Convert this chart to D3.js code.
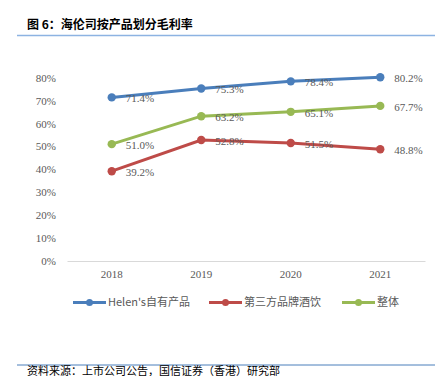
<!DOCTYPE html>
<html>
<head>
<meta charset="utf-8">
<script src="https://cdn.jsdelivr.net/npm/d3@7"></script>
<style>
  body { margin: 0; background: #fff; }
  svg { display: block; }
</style>
</head>
<body>
<script>
// Data
var years = ["2018", "2019", "2020", "2021"];
var seriesNames = ["Helen's自有产品", "第三方品牌酒饮", "整体"];
var ownProducts = [71.4, 75.3, 78.4, 80.2];
var thirdParty = [39.2, 52.8, 51.5, 48.8];
var overall = [51.0, 63.2, 65.1, 67.7];
var yTicks = [0, 10, 20, 30, 40, 50, 60, 70, 80];
var colors = ["#4a7ebb", "#be4b48", "#98b954"];

var series = [ownProducts, thirdParty, overall].map(function(v, i) {
  return { name: seriesNames[i], color: colors[i], values: v };
});

var W = 443, H = 376;
var svg = d3.select("body").append("svg")
    .attr("width", W)
    .attr("height", H);

// Title + rule
svg.append("text")
    .attr("x", 27).attr("y", 29)
    .style("font-family", "'Noto Sans CJK SC', sans-serif")
    .style("font-size", "12px")
    .style("font-weight", "bold")
    .style("fill", "#000")
    .text("图 6：海伦司按产品划分毛利率");

svg.append("line")
    .attr("x1", 17).attr("x2", 435)
    .attr("y1", 35.5).attr("y2", 35.5)
    .attr("stroke", "#8db3e2").attr("stroke-width", 1.5);

// Scales
var x = d3.scaleBand().domain(years).range([67, 425]);
var y = d3.scaleLinear().domain([0, 80]).range([261, 77.7]);

var serif = "'Liberation Serif', 'DejaVu Serif', serif";

// Y axis
var yAxis = svg.append("g")
    .attr("transform", "translate(56,0)")
    .call(d3.axisLeft(y).tickValues(yTicks).tickSize(0).tickPadding(0)
      .tickFormat(function(d) { return d + "%"; }));
yAxis.select(".domain").remove();
yAxis.selectAll("text")
    .style("font-family", serif)
    .style("font-size", "11px")
    .style("fill", "#595959");

// X axis
var xAxis = svg.append("g")
    .attr("transform", "translate(0," + y(0) + ")")
    .call(d3.axisBottom(x).tickSize(0).tickPadding(9));
xAxis.select(".domain").attr("stroke", "#d9d9d9").attr("stroke-width", 1.2);
xAxis.selectAll("text")
    .style("font-family", serif)
    .style("font-size", "11px")
    .style("fill", "#595959");

function cx(i) { return x(years[i]) + x.bandwidth() / 2; }

var line = d3.line()
    .x(function(d, i) { return cx(i); })
    .y(function(d) { return y(d); });

var g = svg.append("g");

series.forEach(function(s) {
  g.append("path")
      .attr("d", line(s.values))
      .attr("fill", "none")
      .attr("stroke", s.color)
      .attr("stroke-width", 3);

  g.selectAll(null).data(s.values).enter()
    .append("circle")
      .attr("cx", function(d, i) { return cx(i); })
      .attr("cy", function(d) { return y(d); })
      .attr("r", 4.2)
      .attr("fill", s.color);

  g.selectAll(null).data(s.values).enter()
    .append("text")
      .attr("x", function(d, i) { return cx(i) + 14; })
      .attr("y", function(d) { return y(d) + 1; })
      .attr("dy", "0.35em")
      .style("font-family", serif)
      .style("font-size", "11px")
      .style("fill", "#595959")
      .text(function(d) { return d.toFixed(1) + "%"; });
});

// Legend
var legendX = [73, 209, 342];
var legend = svg.append("g").attr("transform", "translate(0,302.5)");
series.forEach(function(s, i) {
  var lg = legend.append("g").attr("transform", "translate(" + legendX[i] + ",0)");
  lg.append("line")
      .attr("x1", 0).attr("x2", 33)
      .attr("stroke", s.color).attr("stroke-width", 3);
  lg.append("circle").attr("cx", 16.5).attr("r", 3.5).attr("fill", s.color);
  lg.append("text")
      .attr("x", 35).attr("dy", "0.35em")
      .style("font-family", "'Noto Sans CJK SC', sans-serif")
      .style("font-size", "11px")
      .style("fill", "#595959")
      .text(s.name);
});

// Footer
svg.append("line")
    .attr("x1", 17).attr("x2", 435)
    .attr("y1", 365).attr("y2", 365)
    .attr("stroke", "#4a7ebb").attr("stroke-width", 1);

svg.append("text")
    .attr("x", 27).attr("y", 374.5)
    .style("font-family", "'Noto Sans CJK SC', sans-serif")
    .style("font-size", "11px")
    .style("fill", "#000")
    .text("资料来源：上市公司公告，国信证券（香港）研究部");
</script>
</body>
</html>
